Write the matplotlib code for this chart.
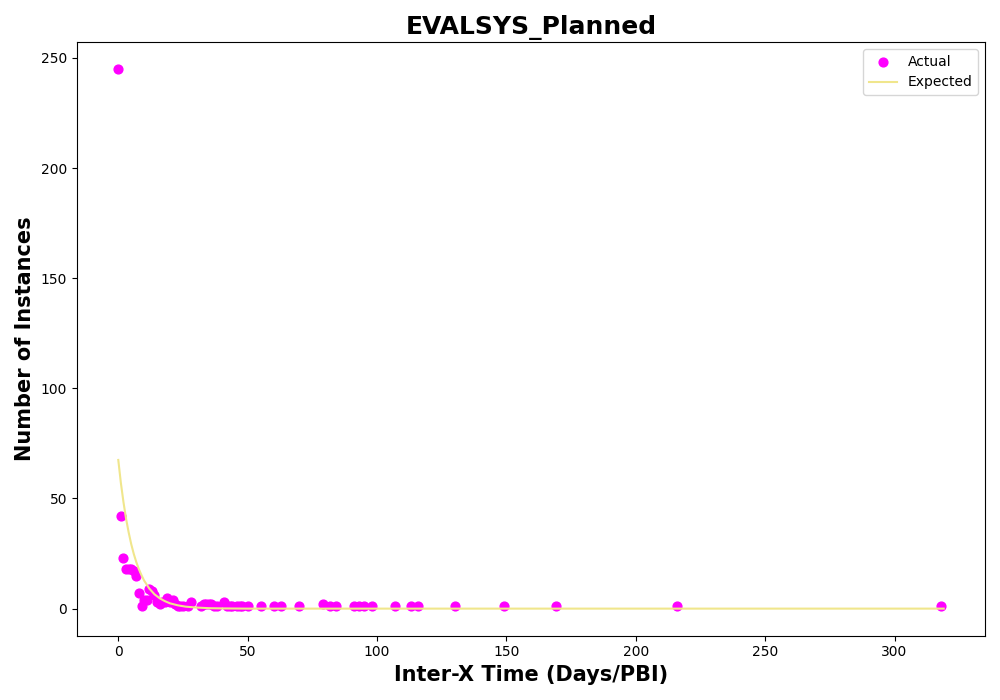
import matplotlib
matplotlib.use("Agg")
import matplotlib.pyplot as plt

# observed inter-X times and counts
actual_x = [0, 1, 2, 3, 4, 5, 6, 7, 8, 9, 10, 11, 12, 13, 14, 15, 16, 17,
            18, 19, 20, 21, 22, 23, 24, 25, 27, 28, 32, 33, 34, 35, 36, 37,
            38, 41, 42, 43, 44, 46, 47, 48, 50, 55, 60, 63, 70, 79, 82, 84,
            91, 93, 95, 98, 107, 113, 116, 130, 149, 169, 216, 318]
actual_y = [245, 42, 23, 18, 18, 18, 17, 15, 7, 1, 4, 4, 9, 8, 6, 3, 2, 3,
            3, 5, 3, 4, 2, 1, 1, 1, 1, 3, 1, 2, 2, 2, 2, 1,
            1, 3, 1, 1, 1, 1, 1, 1, 1, 1, 1, 1, 1, 2, 1, 1,
            1, 1, 1, 1, 1, 1, 1, 1, 1, 1, 1, 1]

# expected curve
expected_x = [0, 1, 2, 3, 4, 5, 6, 7, 8, 9, 10, 12, 14, 16, 18, 20, 23, 26,
              30, 35, 40, 50, 60, 80, 100, 150, 200, 250, 319]
expected_y = [67.5, 57.1, 48.4, 40.9, 34.7, 29.3, 24.8, 21.0, 17.8, 15.1,
              12.7, 9.1, 6.5, 4.7, 3.4, 2.4, 1.5, 0.9, 0.5, 0.2, 0.1, 0.0,
              0.0, 0.0, 0.0, 0.0, 0.0, 0.0, 0.0]

fig, ax = plt.subplots(figsize=(10, 7), dpi=100)
ax.scatter(actual_x, actual_y, color="magenta", s=40, label="Actual", zorder=2)
ax.plot(expected_x, expected_y, color="khaki", lw=1.5, label="Expected", zorder=3)

ax.set_title("EVALSYS_Planned", fontsize=18, fontweight="bold")
ax.set_xlabel("Inter-X Time (Days/PBI)", fontsize=15, fontweight="bold")
ax.set_ylabel("Number of Instances", fontsize=15, fontweight="bold")
ax.legend(loc="upper right")

plt.subplots_adjust(left=0.077, right=0.985, top=0.94, bottom=0.092)
fig.savefig("out.png", dpi=100)
